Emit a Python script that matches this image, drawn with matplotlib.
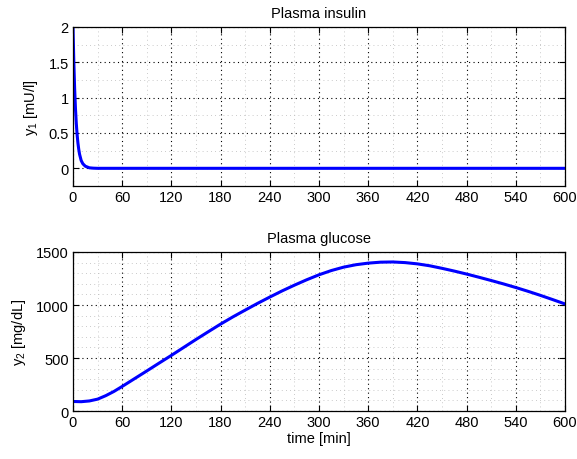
import numpy as np
import matplotlib
matplotlib.use("Agg")
import matplotlib.pyplot as plt
from matplotlib.ticker import MultipleLocator

plt.rcParams["font.family"] = ["Liberation Sans", "DejaVu Sans"]
plt.rcParams["mathtext.fontset"] = "custom"
plt.rcParams["mathtext.rm"] = "Liberation Sans"
plt.rcParams["mathtext.it"] = "Liberation Sans"
plt.rcParams["font.size"] = 10.5

# Plasma insulin
t_ins = [0, 1, 2, 3, 4, 5, 6, 7, 8, 10, 12, 15, 20, 25, 30, 600]
insulin = [2.0, 1.51, 1.13, 0.85, 0.64, 0.48, 0.36, 0.27, 0.20, 0.11,
           0.065, 0.03, 0.007, 0.002, 0.0, 0.0]

# Plasma glucose
t_glu = [0, 10, 20, 30, 40, 50, 60, 75, 90, 105, 120, 135, 150, 165, 180,
         195, 210, 225, 240, 255, 270, 285, 300, 315, 330, 345, 360, 375,
         390, 405, 420, 435, 450, 465, 480, 495, 510, 525, 540, 555, 570,
         585, 600]
glucose = [90, 88, 95, 112, 145, 185, 232, 305, 378, 452, 525, 600, 675,
           748, 820, 888, 952, 1015, 1075, 1133, 1187, 1238, 1285, 1325,
           1357, 1380, 1395, 1404, 1406, 1400, 1388, 1370, 1346, 1320, 1292,
           1262, 1231, 1199, 1165, 1129, 1091, 1051, 1010]

xticks = [0, 60, 120, 180, 240, 300, 360, 420, 480, 540, 600]

fig = plt.figure(figsize=(5.77, 4.6), dpi=100)
ax1 = fig.add_axes([0.1265, 0.5935, 0.8527, 0.3457])
ax2 = fig.add_axes([0.1265, 0.1043, 0.8527, 0.3457])


def style(ax, ymin, ymax, ymajor, yminor):
    ax.set_xlim(0, 600)
    ax.set_ylim(ymin, ymax)
    ax.set_xticks(xticks)
    ax.xaxis.set_minor_locator(MultipleLocator(30))
    ax.yaxis.set_major_locator(MultipleLocator(ymajor))
    ax.yaxis.set_minor_locator(MultipleLocator(yminor))
    ax.grid(which="major", color="black", linestyle=(0, (1, 3)), linewidth=0.8)
    ax.grid(which="minor", color="#b8b8b8", linestyle=(0, (1, 4)), linewidth=0.6)
    ax.tick_params(which="both", direction="in", top=True, right=True)
    ax.tick_params(which="major", length=4, labelsize=10.5, pad=3)
    ax.tick_params(which="minor", length=0)
    for s in ax.spines.values():
        s.set_linewidth(0.9)
    ax.set_axisbelow(True)


ax1.plot(t_ins, insulin, color="#0000ff", linewidth=2.2)
style(ax1, -0.25, 2, 0.5, 0.25)
ax1.set_yticks([0, 0.5, 1, 1.5, 2])
ax1.set_yticklabels(["0", "0.5", "1", "1.5", "2"])
ax1.set_title("Plasma insulin", fontsize=10.5, pad=7)
ax1.set_ylabel(r"y$_1$ [mU/l]", labelpad=6)

ax2.plot(t_glu, glucose, color="#0000ff", linewidth=2.2)
style(ax2, 0, 1500, 500, 100)
ax2.set_title("Plasma glucose", fontsize=10.5, pad=7)
ax2.set_ylabel(r"y$_2$ [mg/dL]", labelpad=6)
ax2.set_xlabel("time [min]", labelpad=1)

fig.savefig("out.png", dpi=100)
